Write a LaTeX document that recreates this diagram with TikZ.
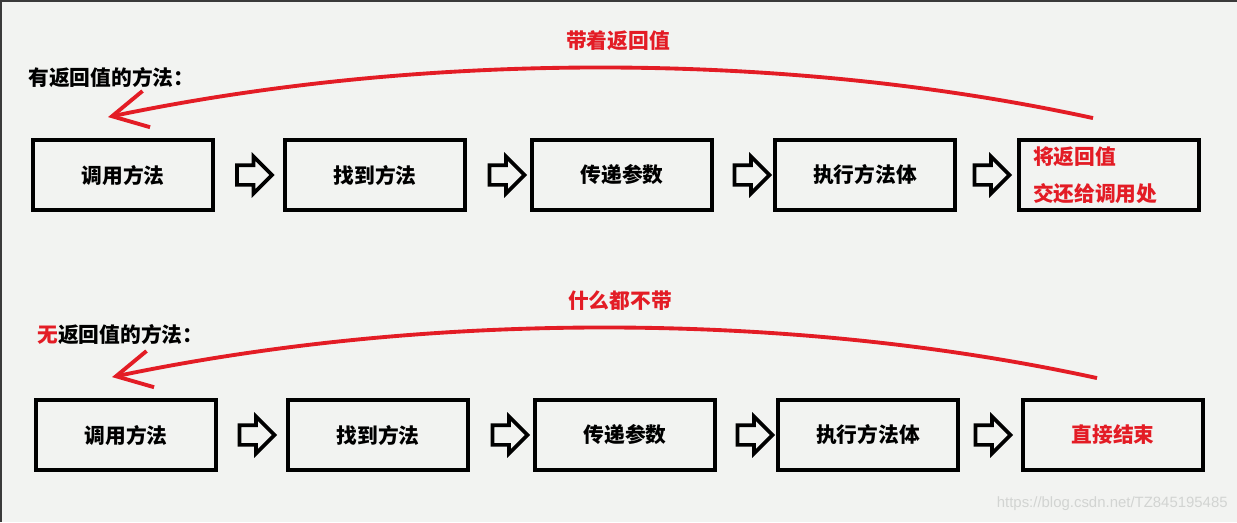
\documentclass[tikz,border=0pt]{standalone}
\usepackage{fontspec}
\setmainfont{Liberation Sans}
\newfontfamily\cjk{Noto Sans CJK SC}
\usepackage{xcolor}
\usepackage{tikz}
\usetikzlibrary{arrows.meta,shapes.arrows}
\definecolor{bg}{HTML}{F2F3F1}
\definecolor{pen}{HTML}{E31C25}
\definecolor{frm}{HTML}{3A3A3A}
\definecolor{wmk}{HTML}{D2D4D2}

\begin{document}
\begin{tikzpicture}[
  x=0.02cm, y=-0.02cm,
  stp/.style={draw, line width=2.2pt, minimum width=3.6cm, minimum height=1.4cm,
    inner sep=0pt, font=\cjk\bfseries\fontsize{11.8}{14}\selectfont},
  nxt/.style={draw, line width=2.1pt, single arrow, single arrow head extend=0.17cm,
    minimum height=0.7cm, inner sep=0.16cm},
  ttl/.style={anchor=west, inner sep=0pt, font=\cjk\bfseries\fontsize{11.8}{14}\selectfont},
  ret/.style={text=pen, inner sep=0pt, font=\cjk\bfseries\fontsize{11.8}{14}\selectfont},
  back/.style={draw=pen, line width=2.2pt, -{Straight Barb[length=7mm, width=7.4mm]}},
  color=black
]
\useasboundingbox (0,0) rectangle (1237,522);
\fill[bg] (0,0) rectangle (1237,522);
\draw[frm, line width=1.2pt] (1,522) -- (1,1) -- (1237,1);

\node[ttl] (t1) at (28,78) {有返回值的方法：};
\node[ret] (l1) at (618,41) {带着返回值};
\node[stp] (a1) at (123,175) {调用方法};
\node[stp] (a2) at (375,175) {找到方法};
\node[stp] (a3) at (622,175) {传递参数};
\node[stp] (a4) at (865,175) {执行方法体};
\node[stp, text=pen, align=left, text width=3.04cm,
  font=\cjk\bfseries\fontsize{11.8}{21}\selectfont] (a5) at (1109,175) {将返回值\\交还给调用处};

\node[nxt] (p1) at (249.5,175) {};
\node[nxt] (p2) at (502,175) {};
\node[nxt] (p3) at (747,175) {};
\node[nxt] (p4) at (987,175) {};

\draw[back] ([shift={(-16,-20)}]a5.north) .. controls (790,52) and (430,50) .. ([shift={(-15,-21)}]a1.north);

\node[ttl] (t2) at (37,335) {\textcolor{pen}{无}返回值的方法：};
\node[ret] (l2) at (620,301) {什么都不带};
\node[stp] (b1) at (126,435) {调用方法};
\node[stp] (b2) at (378,435) {找到方法};
\node[stp] (b3) at (625,435) {传递参数};
\node[stp] (b4) at (868,435) {执行方法体};
\node[stp, text=pen] (b5) at (1113,435) {直接结束};

\node[nxt] (q1) at (252,435) {};
\node[nxt] (q2) at (505,435) {};
\node[nxt] (q3) at (750,435) {};
\node[nxt] (q4) at (988,435) {};

\draw[back] ([shift={(-16,-20)}]b5.north) .. controls (794,312) and (434,310) .. ([shift={(-14,-21)}]b1.north);

\node[anchor=east, inner sep=0pt, text=wmk, font=\fontsize{8.5}{10}\selectfont] (wm) at (1228,504) {https://blog.csdn.net/TZ845195485};
\end{tikzpicture}
\end{document}
